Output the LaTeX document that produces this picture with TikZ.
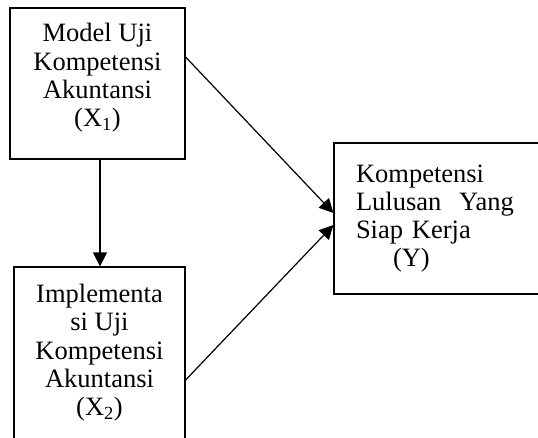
\documentclass[tikz,border=0pt]{standalone}
\usepackage{fontspec}
\setmainfont{Liberation Serif}
\usetikzlibrary{arrows.meta}

\begin{document}
\begin{tikzpicture}[x=1pt,y=-1pt,
    box/.style={draw, line width=1.2pt, inner sep=0pt, font=\fontsize{26.5}{28.3}\selectfont},
    arr/.style={line width=1.2pt, -{Triangle[length=14pt,width=14pt]}}]
    \useasboundingbox (0,0) rectangle (538,437);

    \node[box, minimum width=175pt, minimum height=151pt, align=center, text depth=17pt] (modelx) at (97.5, 83.5)
        {Model Uji\\ Kompetensi\\ Akuntansi\\ (X\textsubscript{1})};
    \node[box, minimum width=171pt, minimum height=183pt, align=center, text depth=17pt] (implx) at (99.5, 358.5)
        {Implementa\\ si Uji\\ Kompetensi\\ Akuntansi\\ (X\textsubscript{2})};
    \node[box, minimum width=216pt, minimum height=151pt, text width=172pt, align=left] (lulusy) at (442, 218.5)
        {Kompetensi\\ Lulusan\ \ Yang\\ Siap Kerja\\ \hspace*{37pt}(Y)};

    \draw[arr] ([xshift=2.5pt]modelx.south) -- ([xshift=2.5pt]modelx.south |- implx.north);
    \draw[arr] ([yshift=26.5pt]modelx.east) -- ([yshift=5.5pt]lulusy.west);
    \draw[arr] ([yshift=-21.5pt]implx.east) -- ([yshift=-6.5pt]lulusy.west);

\end{tikzpicture}
\end{document}
